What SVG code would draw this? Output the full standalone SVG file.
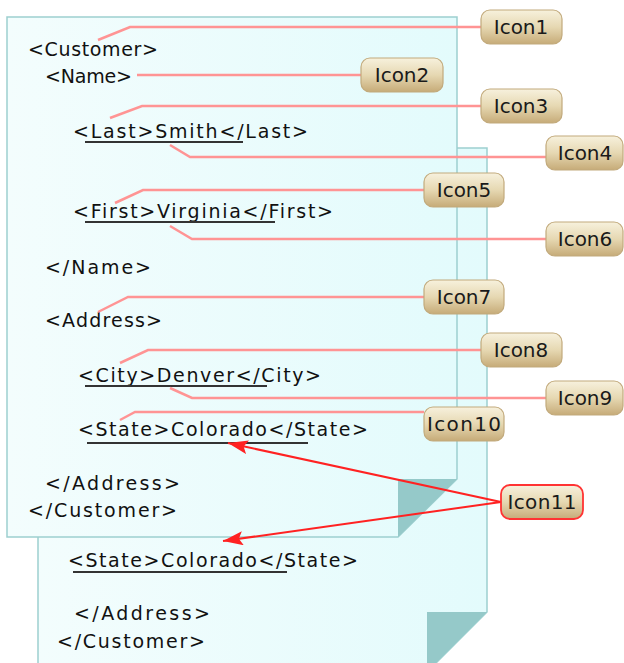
<svg xmlns="http://www.w3.org/2000/svg" width="624" height="663" viewBox="0 0 624 663">
<defs>
<linearGradient id="page" x1="0" y1="0" x2="1" y2="0">
<stop offset="0" stop-color="#f3fdfd"/>
<stop offset="1" stop-color="#e3fbfc"/>
</linearGradient>
<linearGradient id="btn" x1="0" y1="0" x2="0" y2="1">
<stop offset="0" stop-color="#f7f1dd"/>
<stop offset="0.5" stop-color="#e6d8b2"/>
<stop offset="1" stop-color="#c6ab78"/>
</linearGradient>
<marker id="ah" viewBox="0 0 20 14" refX="20" refY="7" markerWidth="20" markerHeight="14" markerUnits="userSpaceOnUse" orient="auto">
<path d="M0,0 L20,7 L0,14 L4,7 z" fill="#f22"/>
</marker>
</defs>
<style>
.pg{fill:url(#page);stroke:#9dd0d0;stroke-width:1.5}
.fold{fill:#95c9c9}
.t{font-family:"DejaVu Sans","Liberation Sans",sans-serif;font-size:19px;fill:#111}
.ul{stroke:#333;stroke-width:1.8}
.pink{fill:none;stroke:#ff9494;stroke-width:2.5}
.red{fill:none;stroke:#f22;stroke-width:2}
.ib{fill:url(#btn);stroke:#c2aa7c;stroke-width:1.2}
.ib.r{stroke:#f33;stroke-width:1.8}
.it{font-family:"DejaVu Sans","Liberation Sans",sans-serif;font-size:20px;fill:#1a1a1a;text-anchor:middle}
</style>

<g id="page-back">
<polygon class="pg" points="38,148 487,148 487,612 427,672 38,672"/>
<polygon class="fold" points="427,612 487,612 427,672"/>
<text class="t" x="68" y="567" textLength="290">&lt;State&gt;Colorado&lt;/State&gt;</text>
<line class="ul" x1="73" y1="572" x2="287" y2="572"/>
<text class="t" x="74" y="620" textLength="136">&lt;/Address&gt;</text>
<text class="t" x="57" y="648" textLength="148">&lt;/Customer&gt;</text>
</g>

<g id="page-front">
<polygon class="pg" points="7,17 457,17 457,479 398,537 7,537"/>
<polygon class="fold" points="398,479 457,479 398,537"/>
<text class="t" x="28" y="56" textLength="130">&lt;Customer&gt;</text>
<text class="t" x="45" y="83" textLength="87">&lt;Name&gt;</text>
<text class="t" x="73" y="138" textLength="235">&lt;Last&gt;Smith&lt;/Last&gt;</text>
<line class="ul" x1="85" y1="142" x2="243" y2="142"/>
<text class="t" x="73" y="218" textLength="260">&lt;First&gt;Virginia&lt;/First&gt;</text>
<line class="ul" x1="85" y1="222" x2="275" y2="222"/>
<text class="t" x="45" y="274" textLength="106">&lt;/Name&gt;</text>
<text class="t" x="45" y="327" textLength="117">&lt;Address&gt;</text>
<text class="t" x="78" y="382" textLength="243">&lt;City&gt;Denver&lt;/City&gt;</text>
<line class="ul" x1="85" y1="386" x2="267" y2="386"/>
<text class="t" x="78" y="436" textLength="290">&lt;State&gt;Colorado&lt;/State&gt;</text>
<line class="ul" x1="87" y1="443" x2="308" y2="443"/>
<text class="t" x="45" y="490" textLength="135">&lt;/Address&gt;</text>
<text class="t" x="28" y="517" textLength="149">&lt;/Customer&gt;</text>
</g>

<g id="connectors">
<polyline class="pink" points="98,40 130,27 481,27"/>
<polyline class="pink" points="137,75 361,75"/>
<polyline class="pink" points="110,118 142,106 481,106"/>
<polyline class="pink" points="170,145 190,157 546,157"/>
<polyline class="pink" points="115,203 143,190 424,190"/>
<polyline class="pink" points="170,226 192,239 546,239"/>
<polyline class="pink" points="98,312 128,297 424,297"/>
<polyline class="pink" points="120,363 148,350 481,350"/>
<polyline class="pink" points="170,388 192,398 546,398"/>
<polyline class="pink" points="120,420 135,412 424,412"/>
<line class="red" x1="501" y1="502" x2="228" y2="443" marker-end="url(#ah)"/>
<line class="red" x1="501" y1="502" x2="223" y2="541" marker-end="url(#ah)"/>
</g>

<g id="icon1"><rect class="ib" x="481" y="10" width="81" height="34" rx="9"/><text class="it" x="521" y="34">Icon1</text></g>
<g id="icon2"><rect class="ib" x="361" y="58" width="82" height="34" rx="9"/><text class="it" x="402" y="82">Icon2</text></g>
<g id="icon3"><rect class="ib" x="481" y="89" width="81" height="34" rx="9"/><text class="it" x="521" y="113">Icon3</text></g>
<g id="icon4"><rect class="ib" x="546" y="136" width="77" height="34" rx="9"/><text class="it" x="585" y="160">Icon4</text></g>
<g id="icon5"><rect class="ib" x="424" y="173" width="80" height="34" rx="9"/><text class="it" x="464" y="197">Icon5</text></g>
<g id="icon6"><rect class="ib" x="546" y="222" width="77" height="34" rx="9"/><text class="it" x="585" y="246">Icon6</text></g>
<g id="icon7"><rect class="ib" x="424" y="280" width="80" height="34" rx="9"/><text class="it" x="464" y="304">Icon7</text></g>
<g id="icon8"><rect class="ib" x="481" y="333" width="81" height="34" rx="9"/><text class="it" x="521" y="357">Icon8</text></g>
<g id="icon9"><rect class="ib" x="546" y="381" width="77" height="34" rx="9"/><text class="it" x="585" y="405">Icon9</text></g>
<g id="icon10"><rect class="ib" x="424" y="407" width="80" height="34" rx="9"/><text class="it" x="464" y="431" textLength="74">Icon10</text></g>
<g id="icon11"><rect class="ib r" x="501" y="485" width="82" height="34" rx="9"/><text class="it" x="542" y="509" textLength="69">Icon11</text></g>
</svg>
